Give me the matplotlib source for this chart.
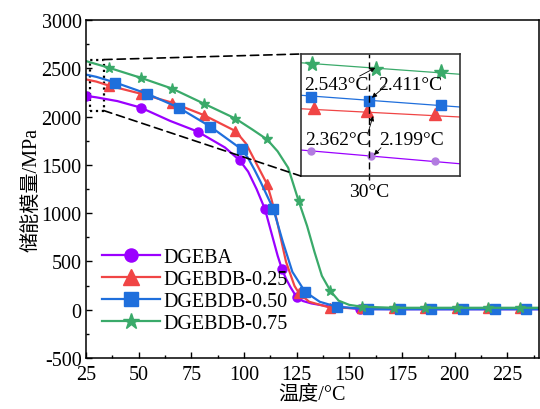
#Storage modulus vs temperature (DMA) with zoomed inset at 30C
import numpy as np
import matplotlib.pyplot as plt
from matplotlib.patches import Rectangle, ConnectionPatch

plt.rcParams['font.family'] = ['Liberation Serif', 'Noto Sans CJK SC']
plt.rcParams['axes.unicode_minus'] = False

# data (temperature C, modulus MPa)
dgeba_t = [25, 30, 40, 51, 65, 78, 91, 98, 102, 106, 110, 113, 116, 118, 120, 122, 125, 128, 132, 140, 155, 170, 190, 210, 240]
dgeba_e = [2215, 2199, 2160, 2093, 1955, 1845, 1680, 1546, 1430, 1250, 1041, 800, 560, 423, 320, 237, 130, 90, 65, 35, 8, 5, 5, 5, 5]

db25_t = [25, 30, 36, 51, 66, 81, 96, 101, 106, 111, 113, 115.5, 120, 124, 126, 131, 141, 156, 171, 186, 201, 216, 231, 240]
db25_e = [2385, 2362, 2320, 2237, 2144, 2015, 1850, 1720, 1510, 1300, 1150, 938, 495, 247, 175, 82, 21, 15, 15, 15, 15, 15, 15, 15]

db50_t = [25, 30, 39, 54, 69, 84, 99, 102, 105, 108, 111, 114, 118.5, 123, 129, 136, 144, 159, 174, 189, 204, 219, 234, 240]
db50_e = [2435, 2411, 2352, 2237, 2093, 1897, 1660, 1570, 1450, 1320, 1180, 1041, 701, 392, 186, 82, 31, 5, 5, 5, 5, 5, 5, 5]

db75_t = [25, 30, 36, 51, 66, 81, 96, 104, 111, 116, 121, 126, 130, 133.5, 137, 141, 145, 150, 156, 171, 186, 201, 216, 231, 240]
db75_e = [2575, 2543, 2505, 2402, 2289, 2134, 1979, 1866, 1763, 1640, 1470, 1124, 866, 598, 351, 196, 93, 50, 31, 20, 20, 20, 20, 20, 20]

# inset (zoom around 30C)
ins_line_t = [27, 34]
ins_dgeba_line = [2219, 2164]
ins_db25_line = [2384, 2351]
ins_db50_line = [2438, 2391]
ins_db75_line = [2568, 2522]
ins_dgeba_t = [27.45, 30.07, 32.9]
ins_dgeba_e = [2215, 2196, 2174]
ins_db25_t = [27.6, 29.9, 32.9]
ins_db25_e = [2389, 2375, 2362]
ins_db50_t = [27.45, 30.0, 33.15]
ins_db50_e = [2433, 2416, 2401]
ins_db75_t = [27.5, 30.3, 33.15]
ins_db75_e = [2562, 2544, 2530]
ins_labels = ['2.543°C', '2.411°C', '2.362°C', '2.199°C']

purple = '#9b00ff'
red = '#f04545'
blue = '#1f6fdc'
green = '#3aaa6a'

fig = plt.figure(figsize=(5.4, 4.1), dpi=100)
ax = fig.add_axes([0.159, 0.1244, 0.839, 0.8244])

ax.plot(dgeba_t, dgeba_e, color=purple, lw=1.6, marker='o', ms=6.5,
        markevery=[0, 3, 5, 7, 10, 13, 16, 20], label='DGEBA')
ax.plot(db25_t, db25_e, color=red, lw=1.6, marker='^', ms=7.5,
        markevery=[2, 3, 4, 5, 6, 9, 14, 16, 17, 18, 19, 20, 21, 22], label='DGEBDB-0.25')
ax.plot(db50_t, db50_e, color=blue, lw=1.6, marker='s', ms=6.5,
        markevery=[2, 3, 4, 5, 6, 11, 14, 16, 17, 18, 19, 20, 21, 22], label='DGEBDB-0.50')
ax.plot(db75_t, db75_e, color=green, lw=1.6, marker='*', ms=8,
        markevery=[2, 3, 4, 5, 6, 8, 11, 15, 18, 19, 20, 21, 22, 23], label='DGEBDB-0.75')

ax.set_xlim(25, 240)
ax.set_ylim(-500, 3000)
ax.set_xticks(np.arange(25, 240, 25))
ax.set_xticks(np.arange(37.5, 240, 25), minor=True)
ax.set_yticks(np.arange(-500, 3001, 500))
ax.set_yticks(np.arange(-250, 3000, 500), minor=True)
ax.tick_params(which='both', direction='in', labelsize=14.5, pad=3)
ax.tick_params(axis='x', which='both', pad=5)
ax.tick_params(which='major', length=4, width=1)
ax.tick_params(which='minor', length=2.5, width=1)
for s in ax.spines.values():
    s.set_linewidth(1.1)
ax.set_xlabel('温度/°C', fontsize=14.5, labelpad=0)
ax.set_ylabel('储能模量/MPa', fontsize=14.5, labelpad=0)

ax.legend(loc='upper left', bbox_to_anchor=(0.018, 0.35), frameon=False, fontsize=14.5,
          handlelength=2.9, handletextpad=0.15, labelspacing=0.15, markerscale=1.45,
          borderaxespad=0, borderpad=0.4)

# dotted box marking the zoomed region
ax.add_patch(Rectangle((27, 2062), 6.5, 528, fill=False, ls=':', lw=1.6, color='k'))

axin = fig.add_axes([300.7/540, 1-177/410, (460-300.7)/540, (177-55)/410])
axin.plot(ins_line_t, ins_dgeba_line, color=purple, lw=0.9)
axin.plot(ins_line_t, ins_db25_line, color=red, lw=0.9)
axin.plot(ins_line_t, ins_db50_line, color=blue, lw=0.9)
axin.plot(ins_line_t, ins_db75_line, color=green, lw=0.9)
axin.plot(ins_dgeba_t, ins_dgeba_e, ls='none', marker='o', ms=5, color='#b27ce0')
axin.plot(ins_db25_t, ins_db25_e, ls='none', marker='^', ms=9, color=red)
axin.plot(ins_db50_t, ins_db50_e, ls='none', marker='s', ms=7, color=blue)
axin.plot(ins_db75_t, ins_db75_e, ls='none', marker='*', ms=11, color=green)
axin.axvline(30, ymin=-0.03, ymax=1, color='k', ls=(0, (5, 3)), lw=1, clip_on=False)
axin.set_xlim(27, 34)
axin.set_ylim(2115, 2603)
axin.set_xticks([30])
axin.set_xticklabels(['30°C'])
axin.set_yticks([])
axin.tick_params(length=0, labelsize=14, pad=5)
for s in axin.spines.values():
    s.set_linewidth(1.2)
    s.set_color('#333333')

text_pos = [(28.56, 2482), (31.82, 2482), (28.63, 2262), (31.88, 2262)]
arrow_from = [(29.59, 2515), (30.72, 2475), (29.96, 2288), (30.53, 2228)]
arrow_to = [(30.28, 2548), (30.13, 2428), (30.18, 2355), (30.22, 2199)]
for lab, p, a, b in zip(ins_labels, text_pos, arrow_from, arrow_to):
    axin.text(p[0], p[1], lab, ha='center', va='center', fontsize=14)
    axin.annotate('', xy=b, xytext=a,
                  arrowprops=dict(arrowstyle='-|>', lw=0.6, color='k', mutation_scale=7,
                                  shrinkA=0, shrinkB=0))

# dashed connectors box -> inset
for yA, yB in [(2590, 1), (2062, 0)]:
    con = ConnectionPatch(xyA=(33.5, yA), coordsA=ax.transData, xyB=(0, yB),
                          coordsB=axin.transAxes, ls=(0, (5, 3)), lw=1.2, color='k')
    fig.add_artist(con)

fig.savefig('out.png', dpi=100)
